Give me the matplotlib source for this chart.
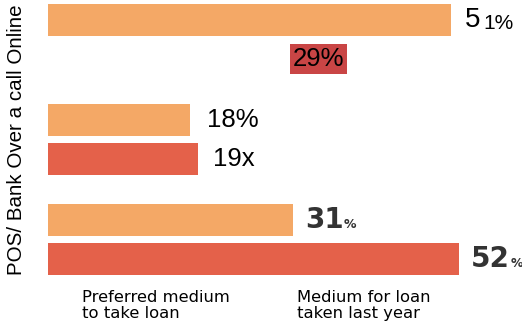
import matplotlib
matplotlib.use('Agg')
import matplotlib.pyplot as plt

# data
media = ['Online', 'Over a call', 'POS/ Bank']
preferred = [51, 18, 31]       # Preferred medium to take loan
last_year = [29, 19, 52]       # Medium for loan taken last year

narrow = 'Liberation Sans'

fig = plt.figure(figsize=(5.22, 3.23), dpi=100)
ax = fig.add_axes([48 / 522, 43 / 323, 474 / 522, 280 / 323])
ax.set_xlim(0, 60)
ax.set_ylim(2.405, -0.395)
ax.axis('off')

h = 0.32
off = 0.195
c_pref = '#F4A866'
c_last = '#E4614A'

for i, (p, l) in enumerate(zip(preferred, last_year)):
    ax.barh(i - off, p, height=h, color=c_pref)
    if i != 0:
        ax.barh(i + off, l, height=h, color=c_last)

# labels - each one looks a bit different in the original
t = ax.annotate('5', (preferred[0], 0 - off), xytext=(10, 0), textcoords='offset points',
                va='center', ha='left', fontsize=20, family=narrow)
ax.annotate('1%', (1.0, 0.0), xycoords=t, xytext=(2, 0), textcoords='offset points',
            va='bottom', ha='left', fontsize=15, family=narrow)

ax.annotate('%d%%' % last_year[0], (last_year[0] + 2, 0 + off), va='center', ha='left',
            fontsize=18.5, family=narrow,
            bbox=dict(boxstyle='square,pad=0.1', fc='#C94545', ec='none'))

ax.annotate('%d%%' % preferred[1], (preferred[1], 1 - off), xytext=(12, 0),
            textcoords='offset points', va='center', ha='left', fontsize=18.5, family=narrow)
ax.annotate('%dx' % last_year[1], (last_year[1], 1 + off), xytext=(11, 0),
            textcoords='offset points', va='center', ha='left', fontsize=18.5, family=narrow)

for val, y in [(preferred[2], 2 - off), (last_year[2], 2 + off)]:
    t = ax.annotate(str(val), (val, y), xytext=(9, 0), textcoords='offset points',
                    va='center', ha='left', fontsize=20, fontweight='bold', color='#333333')
    ax.annotate('%', (1.0, 0.12), xycoords=t, xytext=(0, 0), textcoords='offset points',
                va='bottom', ha='left', fontsize=9, fontweight='bold', color='#333333')

# rotated category label on the left
fig.text(17 / 522, 1 - 140 / 323, ' '.join(media[::-1]), rotation=90, ha='center',
         va='center', fontsize=14.8, family='Liberation Sans')

fig.text(82 / 522, 1 - 290 / 323, 'Preferred medium\nto take loan', ha='left', va='top',
         fontsize=11.8, linespacing=1.05)
fig.text(297 / 522, 1 - 290 / 323, 'Medium for loan\ntaken last year', ha='left', va='top',
         fontsize=11.8, linespacing=1.05)

fig.savefig('out.png', dpi=100)
